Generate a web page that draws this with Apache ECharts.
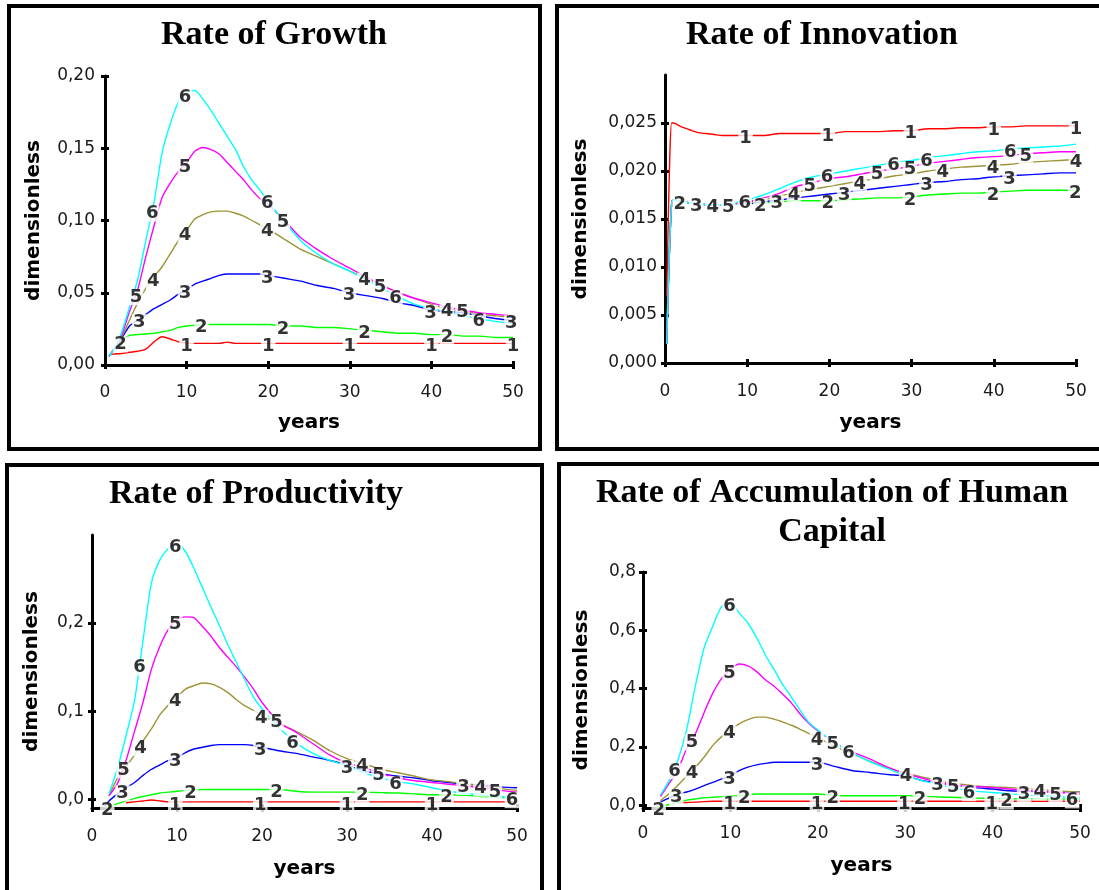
<!DOCTYPE html>
<html>
<head>
<meta charset="utf-8">
<script src="https://cdn.jsdelivr.net/npm/echarts@6/dist/echarts.min.js"></script>
<style>
  html, body { margin: 0; padding: 0; background: #fff; }
  #chart { width: 1099px; height: 890px; }
</style>
</head>
<body>
<div id="chart"></div>
<script>
// ---------- shared ticks ----------
const yearTicks = [0, 10, 20, 30, 40, 50];

// ---------- Rate of Growth ----------
const growthYears = [0.5,1,2,3,4,5,6,7,8,9,10,11,12,13,14,15,16,17,18,19,20,22,24,26,28,30,32,34,36,38,40,42,44,46,48,50];
const growth1 = [0.007,0.0075,0.008,0.0088,0.0095,0.011,0.016,0.0195,0.018,0.016,0.0152,0.015,0.015,0.015,0.015,0.0158,0.015,0.015,0.015,0.015,0.015,0.015,0.015,0.015,0.015,0.015,0.015,0.015,0.015,0.015,0.015,0.015,0.015,0.015,0.015,0.015];
const growth2 = [0.006,0.010,0.017,0.0205,0.021,0.0215,0.022,0.023,0.024,0.026,0.027,0.0275,0.028,0.028,0.028,0.028,0.028,0.028,0.028,0.028,0.028,0.027,0.027,0.026,0.026,0.025,0.024,0.023,0.022,0.022,0.021,0.021,0.020,0.020,0.019,0.019];
const growth3 = [0.006,0.010,0.018,0.027,0.031,0.035,0.039,0.042,0.045,0.049,0.052,0.056,0.058,0.060,0.062,0.063,0.063,0.063,0.063,0.063,0.062,0.060,0.058,0.055,0.053,0.050,0.048,0.046,0.043,0.041,0.038,0.037,0.036,0.034,0.032,0.031];
const growth4 = [0.006,0.010,0.019,0.031,0.043,0.053,0.061,0.068,0.077,0.086,0.093,0.101,0.104,0.106,0.1065,0.1065,0.105,0.103,0.100,0.097,0.094,0.087,0.080,0.075,0.070,0.065,0.060,0.055,0.050,0.046,0.042,0.039,0.037,0.035,0.034,0.033];
const growth5 = [0.006,0.010,0.020,0.037,0.052,0.075,0.096,0.116,0.126,0.134,0.140,0.148,0.1505,0.149,0.146,0.140,0.134,0.128,0.121,0.115,0.111,0.100,0.088,0.080,0.073,0.067,0.061,0.055,0.050,0.046,0.043,0.040,0.038,0.036,0.035,0.034];
const growth6 = [0.006,0.010,0.022,0.040,0.059,0.086,0.112,0.147,0.167,0.182,0.189,0.190,0.184,0.176,0.167,0.158,0.149,0.137,0.128,0.121,0.113,0.099,0.086,0.077,0.070,0.065,0.059,0.053,0.047,0.042,0.039,0.037,0.034,0.032,0.030,0.029];
const growthTicks = [0, 0.05, 0.10, 0.15, 0.20];
const growthLabelYears = [
  [10, 20, 30, 40, 50],
  [1.9, 11.8, 21.8, 31.8, 41.9],
  [4.2, 9.8, 19.9, 29.9, 39.9, 49.8],
  [5.9, 9.8, 19.9, 31.8, 41.9],
  [3.8, 9.8, 21.8, 33.7, 43.8],
  [5.8, 9.8, 19.9, 35.6, 45.8]
];

// ---------- Rate of Innovation ----------
const innovYears = [0.2,0.4,0.6,0.8,1,2,3,4,5,6,7,8,10,12,14,16,18,20,22,24,26,28,30,32,34,36,38,40,42,44,46,48,50];
const innov1 = [0.007,0.015,0.022,0.025,0.025,0.0246,0.0243,0.024,0.0239,0.0238,0.0237,0.0237,0.0237,0.0237,0.0239,0.0239,0.0239,0.0239,0.0241,0.0241,0.0241,0.0242,0.0242,0.0244,0.0244,0.0245,0.0245,0.0246,0.0246,0.0247,0.0247,0.0247,0.0247];
const innov2 = [0.002,0.008,0.013,0.0165,0.017,0.0168,0.0167,0.0166,0.0165,0.0165,0.0165,0.0166,0.0166,0.0167,0.0168,0.0169,0.0169,0.0169,0.0170,0.0171,0.0172,0.0172,0.0173,0.0175,0.0176,0.0177,0.0177,0.0178,0.0179,0.0180,0.0180,0.0180,0.0180];
const innov3 = [0.002,0.008,0.013,0.0165,0.017,0.0168,0.0167,0.0166,0.0165,0.0165,0.0165,0.0166,0.0166,0.0168,0.0170,0.0172,0.0174,0.0176,0.0178,0.0180,0.0182,0.0184,0.0186,0.0188,0.0189,0.0191,0.0192,0.0194,0.0195,0.0196,0.0197,0.0198,0.0198];
const innov4 = [0.002,0.008,0.013,0.0165,0.017,0.0168,0.0167,0.0166,0.0165,0.0165,0.0165,0.0166,0.0167,0.0170,0.0174,0.0178,0.0181,0.0184,0.0187,0.0190,0.0192,0.0195,0.0197,0.0200,0.0202,0.0204,0.0205,0.0206,0.0207,0.0209,0.0210,0.0211,0.0212];
const innov5 = [0.002,0.008,0.013,0.0165,0.017,0.0168,0.0167,0.0166,0.0165,0.0165,0.0165,0.0166,0.0168,0.0172,0.0177,0.0184,0.0188,0.0192,0.0194,0.0197,0.0200,0.0202,0.0205,0.0208,0.0210,0.0212,0.0214,0.0215,0.0216,0.0218,0.0219,0.0220,0.0220];
const innov6 = [0.002,0.008,0.013,0.0165,0.017,0.0168,0.0167,0.0166,0.0165,0.0165,0.0165,0.0166,0.0170,0.0175,0.0182,0.0189,0.0194,0.0197,0.0200,0.0203,0.0206,0.0209,0.0211,0.0214,0.0216,0.0218,0.0220,0.0221,0.0223,0.0224,0.0225,0.0226,0.0228];
const innovTicks = [0, 0.005, 0.010, 0.015, 0.020, 0.025];
const innovLabelYears = [
  [9.8, 19.8, 29.9, 40, 50],
  [1.8, 11.6, 19.8, 29.8, 39.9, 49.9],
  [3.8, 13.6, 21.8, 31.8, 41.9],
  [5.8, 15.7, 23.7, 33.8, 39.9, 50],
  [7.7, 17.6, 25.8, 29.8, 43.9],
  [9.7, 19.7, 27.8, 31.8, 42]
];

// ---------- Rate of Productivity ----------
const prodYears = [1.5,2,3,4,5,6,7,8,9,10,11,12,13,14,15,16,17,18,19,20,22,24,26,28,30,32,34,36,38,40,42,44,46,48,50];
const prod1 = [null,null,null,-0.004,-0.003,-0.002,-0.001,-0.002,-0.003,-0.003,-0.003,-0.003,-0.003,-0.003,-0.003,-0.003,-0.003,-0.003,-0.003,-0.003,-0.003,-0.003,-0.003,-0.003,-0.003,-0.003,-0.003,-0.003,-0.003,-0.003,-0.003,-0.003,-0.003,-0.003,-0.003];
const prod2 = [-0.010,-0.009,-0.005,-0.002,0.001,0.003,0.005,0.007,0.008,0.009,0.010,0.0105,0.011,0.011,0.011,0.011,0.011,0.011,0.011,0.011,0.011,0.009,0.008,0.008,0.008,0.008,0.0075,0.007,0.006,0.005,0.005,0.0045,0.003,0.002,0.001];
const prod3 = [-0.008,-0.002,0.006,0.013,0.019,0.027,0.034,0.039,0.044,0.047,0.053,0.057,0.059,0.061,0.062,0.062,0.062,0.062,0.061,0.059,0.055,0.052,0.048,0.044,0.039,0.032,0.029,0.026,0.024,0.021,0.019,0.017,0.016,0.014,0.013];
const prod4 = [null,0.004,0.024,0.037,0.050,0.066,0.080,0.096,0.107,0.116,0.125,0.129,0.132,0.131,0.127,0.121,0.113,0.106,0.101,0.095,0.086,0.077,0.067,0.055,0.046,0.040,0.034,0.030,0.026,0.022,0.020,0.017,0.015,0.012,0.010];
const prod5 = [null,0.004,0.018,0.044,0.077,0.110,0.148,0.174,0.193,0.204,0.207,0.206,0.196,0.185,0.172,0.161,0.150,0.138,0.125,0.110,0.087,0.076,0.063,0.050,0.041,0.036,0.029,0.024,0.021,0.019,0.017,0.015,0.013,0.010,0.008];
const prod6 = [null,0.006,0.035,0.072,0.112,0.180,0.246,0.272,0.285,0.290,0.281,0.262,0.240,0.218,0.197,0.175,0.155,0.135,0.116,0.103,0.081,0.064,0.052,0.044,0.038,0.030,0.024,0.020,0.017,0.013,0.009,0.0065,0.005,0.003,0.002];
const prodTicks = [0, 0.1, 0.2];
const prodLabelYears = [
  [9.8, 19.8, 30, 40],
  [1.8, 11.6, 21.7, 31.8, 41.7],
  [3.6, 9.8, 19.8, 30, 43.7],
  [5.7, 9.8, 19.9, 31.8, 45.7],
  [3.7, 9.8, 21.7, 33.7, 47.4],
  [5.6, 9.8, 23.6, 35.7, 49.4]
];

// ---------- Rate of Accumulation of Human Capital ----------
const humanYears = [1.5,2,3,4,5,6,7,8,9,10,11,12,13,14,15,16,17,18,19,20,22,24,26,28,30,32,34,36,38,40,42,44,46,48,50];
const human1 = [null,null,null,0.008,0.009,0.010,0.012,0.013,0.013,0.013,0.013,0.013,0.013,0.013,0.013,0.013,0.013,0.013,0.013,0.013,0.013,0.013,0.013,0.013,0.013,0.013,0.013,0.013,0.013,0.013,0.013,0.013,0.013,0.013,0.013];
const human2 = [-0.008,-0.005,0.002,0.010,0.017,0.021,0.025,0.027,0.029,0.030,0.032,0.035,0.038,0.038,0.038,0.038,0.038,0.038,0.038,0.038,0.033,0.032,0.032,0.032,0.032,0.030,0.028,0.026,0.024,0.023,0.022,0.022,0.021,0.021,0.021];
const human3 = [null,0.010,0.025,0.038,0.045,0.055,0.067,0.078,0.090,0.100,0.118,0.130,0.138,0.143,0.147,0.147,0.147,0.147,0.147,0.147,0.132,0.118,0.112,0.105,0.100,0.084,0.076,0.067,0.060,0.055,0.049,0.047,0.046,0.045,0.044];
const human4 = [null,0.015,0.040,0.068,0.100,0.130,0.165,0.205,0.235,0.258,0.279,0.293,0.302,0.302,0.295,0.285,0.274,0.260,0.245,0.232,0.200,0.175,0.150,0.128,0.110,0.096,0.082,0.073,0.066,0.062,0.060,0.056,0.052,0.048,0.044];
const human5 = [null,0.030,0.075,0.120,0.195,0.245,0.318,0.385,0.435,0.465,0.484,0.478,0.458,0.430,0.408,0.380,0.350,0.312,0.280,0.255,0.212,0.182,0.158,0.130,0.108,0.092,0.076,0.068,0.064,0.060,0.055,0.050,0.046,0.042,0.038];
const human6 = [null,0.035,0.085,0.155,0.260,0.410,0.540,0.615,0.682,0.695,0.659,0.625,0.575,0.515,0.465,0.413,0.370,0.325,0.283,0.258,0.212,0.178,0.148,0.125,0.102,0.083,0.069,0.056,0.048,0.043,0.038,0.034,0.031,0.028,0.025];
const humanTicks = [0, 0.2, 0.4, 0.6, 0.8];
const humanLabelYears = [
  [9.9, 19.9, 29.9, 39.9],
  [1.8, 11.6, 21.7, 31.7, 41.6],
  [3.8, 9.9, 19.9, 33.7, 43.6],
  [5.6, 9.9, 19.9, 30.1, 45.4],
  [5.6, 9.9, 21.7, 35.5, 47.2],
  [3.6, 9.9, 23.5, 37.3, 49.1]
];

const seriesNames = ['1', '2', '3', '4', '5', '6'];
const lineColors = ['#ff0000', '#00ff00', '#0000ff', '#9d9438', '#ff00ff', '#00ffff'];

// ---------- panel layout ----------
const panels = [
  {
    title: 'Rate of Growth', titleX: 274, titleY: 35,
    box: { x: 9, y: 6, width: 531, height: 443 },
    grid: { left: 105, top: 76, width: 408, height: 289 },
    yMin: 0, yMax: 0.2, yTicks: growthTicks, decimals: 2,
    years: growthYears, values: [growth1, growth2, growth3, growth4, growth5, growth6],
    labelYears: growthLabelYears,
    yNameGap: 61, xNameGap: 48, xLabelMargin: 19, yLabelMargin: 10
  },
  {
    title: 'Rate of Innovation', titleX: 822, titleY: 35,
    box: { x: 557, y: 6, width: 560, height: 443 },
    grid: { left: 665, top: 75, width: 411, height: 288 },
    yMin: 0, yMax: 0.03, yTicks: innovTicks, decimals: 3,
    years: innovYears, values: [innov1, innov2, innov3, innov4, innov5, innov6],
    labelYears: innovLabelYears,
    yNameGap: 74, xNameGap: 50, xLabelMargin: 20, yLabelMargin: 8
  },
  {
    title: 'Rate of Productivity', titleX: 256, titleY: 494,
    box: { x: 7, y: 465, width: 535, height: 500 },
    grid: { left: 92, top: 535, width: 425, height: 273 },
    yMin: -0.01, yMax: 0.3, yTicks: prodTicks, decimals: 1,
    years: prodYears, values: [prod1, prod2, prod3, prod4, prod5, prod6],
    labelYears: prodLabelYears,
    yNameGap: 50, xNameGap: 51, xLabelMargin: 20, yLabelMargin: 8
  },
  {
    title: 'Rate of Accumulation of Human\nCapital', titleX: 832, titleY: 513,
    box: { x: 559, y: 464, width: 560, height: 500 },
    grid: { left: 643, top: 572, width: 437, height: 236 },
    yMin: -0.01, yMax: 0.8, yTicks: humanTicks, decimals: 1,
    years: humanYears, values: [human1, human2, human3, human4, human5, human6],
    labelYears: humanLabelYears,
    yNameGap: 51, xNameGap: 48, xLabelMargin: 17, yLabelMargin: 7
  }
];

// value of a series at year x, read along its polyline
function valueAt(xs, ys, x) {
  const pts = [];
  for (let i = 0; i < xs.length; i++) if (ys[i] !== null) pts.push([xs[i], ys[i]]);
  if (x <= pts[0][0]) return pts[0][1];
  for (let i = 0; i < pts.length - 1; i++) {
    const a = pts[i], b = pts[i + 1];
    if (x >= a[0] && x <= b[0]) return a[1] + (b[1] - a[1]) * (x - a[0]) / (b[0] - a[0]);
  }
  return pts[pts.length - 1][1];
}

const axisFont = 'DejaVu Sans';
const grids = [], xAxes = [], yAxes = [], series = [], graphics = [];

panels.forEach((p, k) => {
  grids.push(Object.assign({ containLabel: false, outerBoundsMode: 'none' }, p.grid));

  const fmt = v => v.toFixed(p.decimals).replace('.', ',');
  const xBase = {
    type: 'value', gridIndex: k, min: 0, max: 50, interval: 10, position: 'bottom',
    splitLine: { show: false }
  };
  const yBase = {
    type: 'value', gridIndex: k, min: p.yMin, max: p.yMax, position: 'left',
    splitLine: { show: false }
  };

  // main axes: line, outer ticks, labels, names
  xAxes.push(Object.assign({}, xBase, {
    name: 'years', nameLocation: 'middle', nameGap: p.xNameGap,
    nameTextStyle: { fontFamily: axisFont, fontWeight: 'bold', fontSize: 20, color: '#000' },
    axisLine: { show: true, onZero: false, lineStyle: { color: '#000', width: 3 } },
    axisTick: { show: true, inside: false, length: 4, customValues: yearTicks, lineStyle: { color: '#000', width: 3 } },
    axisLabel: { show: true, margin: p.xLabelMargin, customValues: yearTicks,
                 fontFamily: axisFont, fontSize: 17, color: '#1a1a1a' }
  }));
  // companion axis: inner half of the crossing ticks
  xAxes.push(Object.assign({}, xBase, {
    axisLine: { show: false, onZero: false },
    axisTick: { show: true, inside: true, length: 4, customValues: yearTicks, lineStyle: { color: '#000', width: 3 } },
    axisLabel: { show: false }
  }));

  yAxes.push(Object.assign({}, yBase, {
    name: 'dimensionless', nameLocation: 'middle', nameGap: p.yNameGap,
    nameTextStyle: { fontFamily: axisFont, fontWeight: 'bold', fontSize: 20, color: '#000' },
    axisLine: { show: true, onZero: false, lineStyle: { color: '#000', width: 3 } },
    axisTick: { show: true, inside: false, length: 4, customValues: p.yTicks, lineStyle: { color: '#000', width: 3 } },
    axisLabel: { show: true, margin: p.yLabelMargin, customValues: p.yTicks, formatter: fmt,
                 fontFamily: axisFont, fontSize: 17, color: '#1a1a1a' }
  }));
  yAxes.push(Object.assign({}, yBase, {
    axisLine: { show: false, onZero: false },
    axisTick: { show: true, inside: true, length: 4, customValues: p.yTicks, lineStyle: { color: '#000', width: 3 } },
    axisLabel: { show: false }
  }));

  // curves
  p.values.forEach((vals, s) => {
    const data = [];
    p.years.forEach((x, i) => { if (vals[i] !== null) data.push([x, vals[i]]); });
    series.push({
      type: 'line', xAxisIndex: 2 * k, yAxisIndex: 2 * k,
      data: data, showSymbol: false, smooth: 0.25, z: 2,
      lineStyle: { color: lineColors[s], width: 1.4 },
      silent: true
    });
  });

  // numbered curve labels
  const labelData = [];
  p.labelYears.forEach((ys, s) => {
    ys.forEach(x => {
      labelData.push({
        value: [x, valueAt(p.years, p.values[s], x)],
        label: { formatter: seriesNames[s] }
      });
    });
  });
  series.push({
    type: 'scatter', xAxisIndex: 2 * k, yAxisIndex: 2 * k,
    data: labelData, symbolSize: 1, itemStyle: { color: 'rgba(0,0,0,0)' }, z: 5, silent: true,
    label: {
      show: true, position: 'inside', offset: [0, 3],
      fontFamily: axisFont, fontWeight: 'bold', fontSize: 18, color: '#000',
      backgroundColor: '#fff', padding: [0, 1], lineHeight: 16
    }
  });

  // panel frame and heading
  graphics.push({
    type: 'rect', silent: true, z: 0,
    shape: p.box, style: { fill: 'none', stroke: '#000', lineWidth: 4 }
  });
  graphics.push({
    type: 'text', silent: true, x: p.titleX, y: p.titleY,
    style: {
      text: p.title, fontFamily: 'Liberation Serif', fontWeight: 'bold', fontSize: 34,
      lineHeight: 39, fill: '#000', align: 'center', verticalAlign: 'middle'
    }
  });
});

const chart = echarts.init(document.getElementById('chart'), null, { renderer: 'canvas' });
chart.setOption({
  animation: false,
  backgroundColor: '#fff',
  grid: grids,
  xAxis: xAxes,
  yAxis: yAxes,
  series: series,
  graphic: graphics
});
</script>
</body>
</html>
